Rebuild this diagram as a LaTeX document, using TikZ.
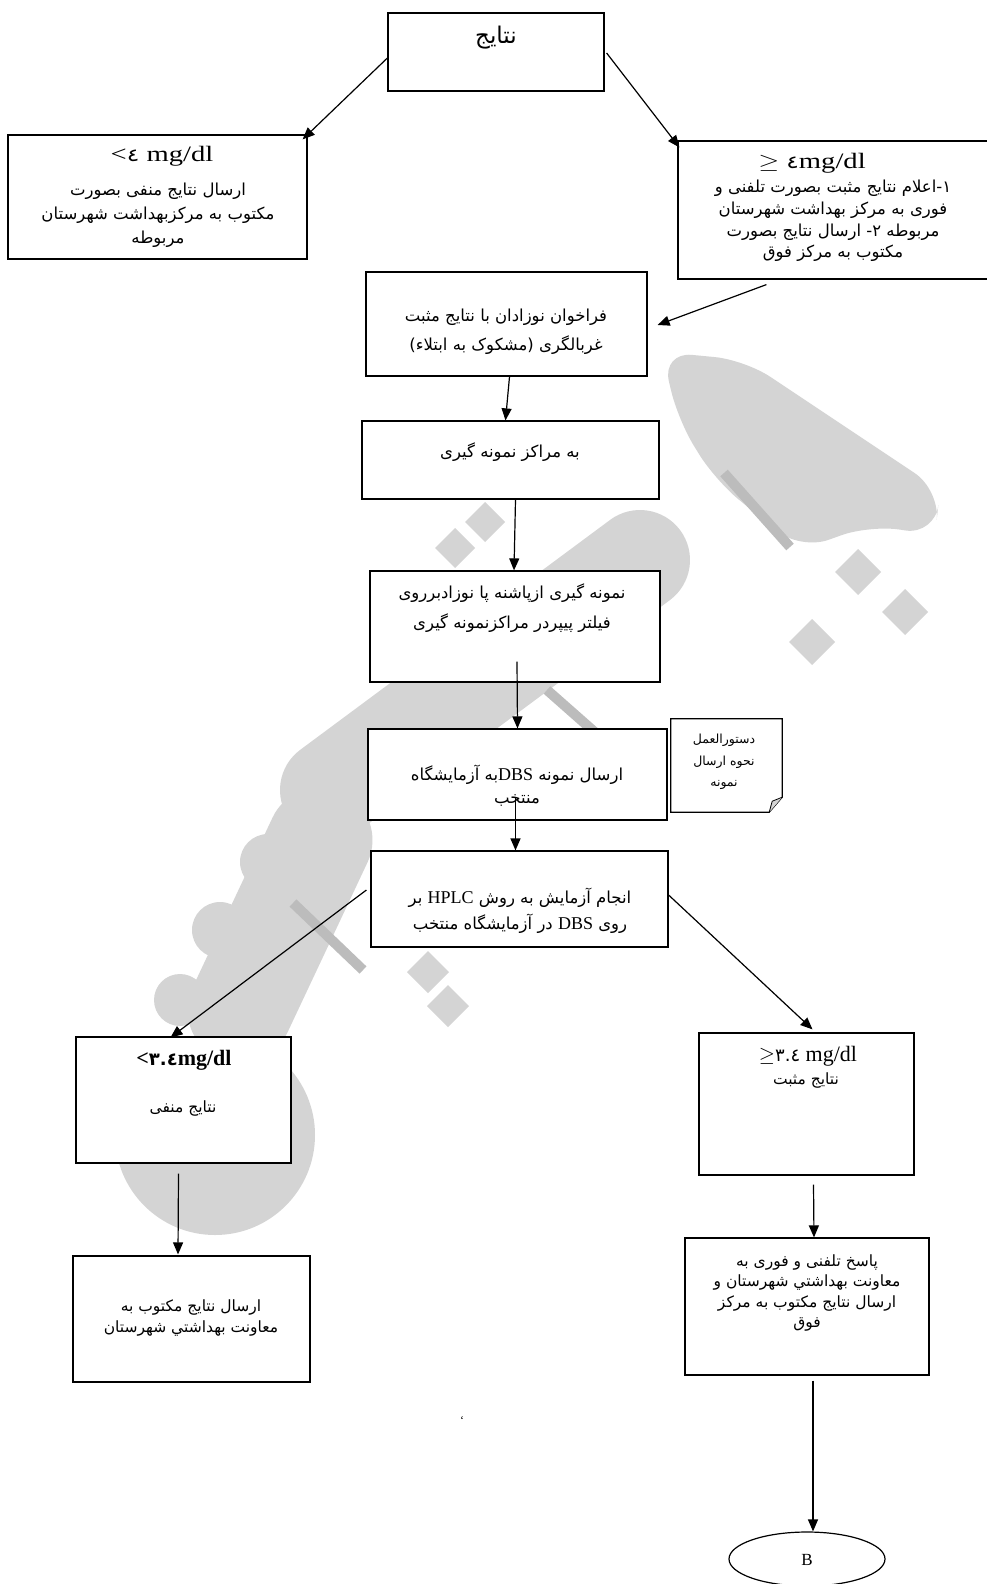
\documentclass[tikz,border=0pt]{standalone}
\usepackage{fontspec}
\setmainfont{Liberation Serif}
\newfontfamily\ar[Script=Arabic]{DejaVu Sans}
\TeXXeTstate=1
\usetikzlibrary{arrows.meta,calc,shapes.geometric}
\newcommand\rtlx[1]{\beginR #1\endR}
\newcommand\arfs[2]{\ar\fontsize{#1}{#2}\selectfont}
\definecolor{wm}{RGB}{212,212,212}
\definecolor{wmd}{RGB}{188,188,188}
\begin{document}
\begin{tikzpicture}[x=1pt,y=-1pt,
  box/.style={draw=black,line width=1.2pt,fill=white,rectangle,inner sep=0pt},
  arr/.style={line width=1.2pt,-{Triangle[length=12pt,width=10pt]}},
  ln/.style={line width=1.2pt},
  artx/.style={inner sep=0pt,align=center,font=\arfs{16.5}{22}},
  latx/.style={inner sep=0pt,align=center,font=\fontsize{22}{24}\selectfont},
  wms/.style={draw=wmd,line width=10pt},
  wmline/.style={draw=wm,line width=#1,line cap=round,line join=round}
]
\useasboundingbox (0,0) rectangle (987,1584);
\clip (0,0) rectangle (987,1584);
\fill[white] (0,0) rectangle (987,1584);

% ---------- watermark (approximate) ----------
\fill[wm,rounded corners=30pt] (662,352) -- (745,360) -- (940,490) -- (935,535)
  -- (870,525) -- (800,550) -- (715,480) -- (678,420) -- cycle;
\path[wms] (724,473) -- (790,547);
\foreach \cx/\cy in {858/572,905/612,812/642}
  \fill[wm] (\cx-23,\cy) -- (\cx,\cy-23) -- (\cx+23,\cy) -- (\cx,\cy+23) -- cycle;
\path[wmline=100pt] (640,560) -- (330,790);
\path[wms] (547,690) -- (598,735);
\foreach \cx/\cy in {485/522,455/548}
  \fill[wm] (\cx-20,\cy) -- (\cx,\cy-20) -- (\cx+20,\cy) -- (\cx,\cy+20) -- cycle;
\path[wmline=105pt] (320,840) -- (240,1010);
\fill[wm] (268,862) circle (28pt);
\fill[wm] (220,930) circle (28pt);
\fill[wm] (180,1000) circle (26pt);
\fill[wm] (215,1135) circle (100pt);
\path[wms] (293,903) -- (363,970);
\foreach \cx/\cy in {428/972,448/1006}
  \fill[wm] (\cx-21,\cy) -- (\cx,\cy-21) -- (\cx+21,\cy) -- (\cx,\cy+21) -- cycle;

% ---------- boxes ----------
\node[box,minimum width=216pt,minimum height=78pt] (top) at (496,52) {};
\node[box,minimum width=299pt,minimum height=124pt] (lbox) at (157.5,197) {};
\node[box,minimum width=318pt,minimum height=138pt] (rbox) at (837,210) {};
\node[box,minimum width=281pt,minimum height=104pt] (fara) at (506.5,324) {};
\node[box,minimum width=297pt,minimum height=78pt] (mara) at (510.5,460) {};
\node[box,minimum width=290pt,minimum height=111pt] (nemu) at (515,626.5) {};
\node[box,minimum width=299pt,minimum height=91pt] (dbs) at (517.5,774.5) {};
\node[minimum width=111pt,minimum height=93pt,inner sep=0pt] (note) at (726.5,765.5) {};
\node[box,minimum width=297pt,minimum height=96pt] (hplc) at (519.5,899) {};
\node[box,minimum width=215pt,minimum height=126pt] (lt34) at (183.5,1100) {};
\node[box,minimum width=215pt,minimum height=142pt] (gt34) at (806.5,1104) {};
\node[box,minimum width=237pt,minimum height=126pt] (lbot) at (191.5,1319) {};
\node[box,minimum width=244pt,minimum height=137pt] (rbot) at (807,1306.5) {};
\node[draw=black,line width=1.2pt,fill=white,ellipse,minimum width=156pt,minimum height=54pt,inner sep=0pt] (bend) at (807,1559) {};

% note outline with folded corner
\draw[ln,fill=white] (note.north west) -- (note.north east) -- ($(note.south east)+(0,-15)$)
  -- ($(note.south east)+(-13,0)$) -- (note.south west) -- cycle;
\draw[line width=0.8pt,fill=wm] ($(note.south east)+(-13,0)$) -- ($(note.south east)+(-10,-11)$) -- ($(note.south east)+(0,-15)$);

% ---------- texts ----------
\node[artx,font=\arfs{23}{26}] (top-t) at (496,38) {\rtlx{نتایج}};

\node[latx] (lbox-m) at (162,156) {\scalebox{1.3}[1]{<{\ar\fontsize{18}{20}\selectfont ٤} mg/dl}};
\node[artx,font=\arfs{16.5}{24}] (lbox-t) at (158,215) {\rtlx{ارسال نتایج منفی  بصورت}\\\rtlx{مکتوب به مرکزبهداشت شهرستان}\\\rtlx{مربوطه}};

\node[latx] (rbox-m) at (812,163) {\scalebox{1.3}[1]{$\geq$ {\ar\fontsize{18}{20}\selectfont ٤}mg/dl}};
\node[artx,font=\arfs{16.5}{21.7}] (rbox-t) at (833,221) {\rtlx{١-اعلام نتایج مثبت بصورت تلفنی و}\\\rtlx{فوری به مرکز بهداشت شهرستان}\\\rtlx{مربوطه ٢- ارسال نتایج بصورت}\\\rtlx{مکتوب به مرکز فوق}};

\node[artx,font=\arfs{16.5}{29}] (fara-t) at (506,332) {\rtlx{فراخوان نوزادان با نتایج مثبت}\\\rtlx{غربالگری (مشکوک به ابتلاء)}};
\node[artx] (mara-t) at (510,452) {\rtlx{به مراکز نمونه گیری}};
\node[artx,font=\arfs{16.5}{30}] (nemu-t) at (512,608) {\rtlx{نمونه گیری ازپاشنه پا نوزادبرروی}\\\rtlx{فیلتر پیپردر مراکزنمونه گیری}};
\node[artx,font=\arfs{16.5}{23}] (dbs-t) at (517,786) {\rtlx{ارسال نمونه \beginL{\rmfamily\fontsize{18}{20}\selectfont DBS}\endL{}به آزمایشگاه}\\\rtlx{منتخب}};
\node[artx,font=\arfs{12.5}{21.5}] (note-t) at (724,762) {\rtlx{دستورالعمل}\\\rtlx{نحوه ارسال}\\\rtlx{نمونه}};
\node[artx,font=\arfs{16.5}{26}] (hplc-t) at (520,911) {\rtlx{انجام آزمایش به روش \beginL{\rmfamily\fontsize{18}{20}\selectfont HPLC}\endL{} بر}\\\rtlx{روی \beginL{\rmfamily\fontsize{18}{20}\selectfont DBS}\endL{} در آزمایشگاه منتخب}};

\node[latx,font=\bfseries\fontsize{22}{24}\selectfont] (lt34-m) at (184,1060) {<{\ar\bfseries\fontsize{18}{20}\selectfont ٣.٤}mg/dl};
\node[artx,font=\arfs{15.5}{21}] (lt34-t) at (183,1108) {\rtlx{نتایج منفی}};
\node[latx,font=\fontsize{22}{24}\selectfont] (gt34-m) at (808,1056) {$\geq${\ar\fontsize{18}{20}\selectfont ٣.٤} mg/dl};
\node[artx,font=\arfs{15.5}{21}] (gt34-t) at (806,1080) {\rtlx{نتایج مثبت}};
\node[artx,font=\arfs{15.5}{21}] (lbot-t) at (191,1318) {\rtlx{ارسال نتایج مکتوب به}\\\rtlx{معاونت بهداشتي شهرستان}};
\node[artx,font=\arfs{15.5}{20.5}] (rbot-t) at (807,1293) {\rtlx{پاسخ تلفنی و فوری به}\\\rtlx{معاونت بهداشتي شهرستان و}\\\rtlx{ارسال نتایج  مکتوب به مرکز}\\\rtlx{فوق}};
\node[latx,font=\fontsize{17}{20}\selectfont] (bend-t) at (807,1560) {B};
\node[inner sep=0pt,font=\fontsize{12}{14}\selectfont] (tick) at (462,1420) {‘};

% ---------- connectors ----------
\draw[arr] ($(top.west)+(0,6)$) -- ($(lbox.north east)+(-5,5)$);
\draw[arr] ($(top.east)+(2,1)$) -- ($(rbox.north west)+(2,7)$);
\draw[arr] ($(rbox.south west)+(89,5)$) -- ($(fara.east)+(10,1)$);
\draw[arr] ($(fara.south)+(3,0)$) -- ($(mara.north)+(-5,0)$);
\draw[arr] ($(mara.south)+(5,0)$) -- ($(nemu.north)+(-1,0)$);
\draw[arr] ($(nemu.south)+(2,-21)$) -- ($(dbs.north)+(0,0)$);
\draw[arr] ($(dbs.south)+(-2,-23)$) -- ($(hplc.north)+(-4,0)$);
\draw[arr] ($(hplc.west)+(-4,-9)$) -- ($(lt34.north)+(-13,1)$);
\draw[arr] ($(hplc.east)+(0,-4)$) -- ($(gt34.north)+(6,-3)$);
\draw[arr] ($(lt34.south)+(-5,10)$) -- ($(lbot.north)+(-13.5,-1)$);
\draw[arr] ($(gt34.south)+(7,9)$) -- ($(rbot.north)+(7,0)$);
\draw[arr] ($(rbot.south)+(6,5)$) -- ($(bend.north)+(6,0)$);
\end{tikzpicture}
\end{document}
